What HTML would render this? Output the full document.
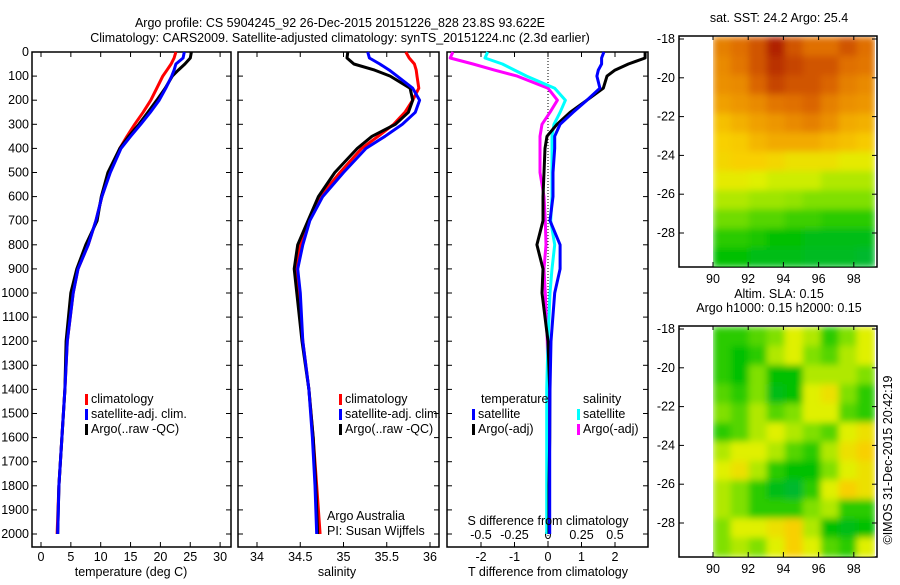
<!DOCTYPE html>
<html><head><meta charset="utf-8"><style>
body{margin:0;background:#fff}
svg text{font-family:"Liberation Sans",sans-serif;font-size:12.5px;fill:#000}
</style></head><body>
<svg id="c" width="900" height="580" xmlns="http://www.w3.org/2000/svg">
<defs><filter id="bl" x="0" y="0" width="100%" height="100%"><feGaussianBlur stdDeviation="3.5" edgeMode="duplicate"/></filter>
<clipPath id="m1"><rect x="713" y="37" width="162" height="230"/></clipPath>
<clipPath id="m2"><rect x="713" y="327" width="162" height="230"/></clipPath></defs>
<text x="340" y="27" text-anchor="middle">Argo profile: CS 5904245_92 26-Dec-2015 20151226_828 23.8S 93.622E</text>
<text x="340" y="42" text-anchor="middle">Climatology: CARS2009. Satellite-adjusted climatology: synTS_20151224.nc (2.3d earlier)</text>
<g id="g"></g>
</svg>
<script>
const depths=[0,25,50,75,100,150,200,250,300,350,400,500,600,700,800,900,1000,1200,1400,1600,1800,2000];
const tempArgo=[25.2,25.0,24.1,23.0,22.0,20.8,19.4,17.9,16.4,14.7,13.2,11.2,10.1,9.4,7.5,6.0,5.0,4.2,4.0,3.5,3.0,2.8];
const tempSat=[24.0,23.8,22.6,22.3,21.9,20.9,19.8,18.3,16.7,15.0,13.4,11.6,10.2,9.2,7.9,6.2,5.4,4.4,4.0,3.5,3.0,2.8];
const tempClim=[22.6,22.3,21.8,21.1,20.4,19.4,18.4,17.1,15.7,14.4,13.2,11.5,10.2,9.2,7.9,6.2,5.4,4.4,4.0,3.5,3.0,2.7];
const salArgo=[35.05,35.04,35.12,35.36,35.54,35.77,35.80,35.75,35.60,35.33,35.16,34.90,34.71,34.59,34.47,34.43,34.46,34.52,34.60,34.65,34.68,34.70];
const salSat=[35.28,35.30,35.42,35.53,35.62,35.80,35.88,35.83,35.68,35.48,35.26,35.00,34.76,34.61,34.53,34.47,34.50,34.53,34.60,34.64,34.67,34.69];
const salClim=[35.72,35.76,35.82,35.84,35.85,35.87,35.80,35.71,35.58,35.40,35.21,34.96,34.73,34.60,34.50,34.45,34.48,34.53,34.60,34.65,34.69,34.73];
const dTsat=[1.67,1.6,1.6,1.5,1.46,1.55,1.16,0.75,0.36,0.2,0.2,0.15,0.15,0.06,0.36,0.36,0.2,0.09,0.06,0.05,0.05,0.05];
const dTargo=[2.9,2.9,2.4,2.0,1.76,1.65,1.16,0.66,0.27,-0.03,-0.09,-0.12,-0.15,-0.15,-0.33,-0.15,-0.18,0.0,0.05,0.05,0.03,0.03];
const dSsat=[-0.45,-0.47,-0.34,-0.25,-0.16,0.05,0.13,0.09,0.045,0.03,0.03,0.03,0.03,0.02,0.05,0.03,0.015,0.0,-0.01,-0.01,-0.01,-0.01];
const dSargo=[-0.71,-0.73,-0.56,-0.4,-0.23,0.0,0.07,0.015,-0.045,-0.06,-0.06,-0.06,-0.03,-0.02,-0.015,-0.03,-0.02,-0.005,0.0,0.005,0.005,0.005];
const depthTicks=[0,100,200,300,400,500,600,700,800,900,1000,1100,1200,1300,1400,1500,1600,1700,1800,1900,2000];
const tempTicks=[0,5,10,15,20,25,30];
const salTicks=[34,34.5,35,35.5,36];
const dTTicks=[-2,-1,0,1,2];
const dSTicks=[-0.5,-0.25,0,0.25,0.5];
const dSTickLabels=["-0.5","-0.25","0","0.25","0.5"];
const lons=[90,92,94,96,98];
const lats=[-18,-20,-22,-24,-26,-28];
const sst=[[.75,.8,.85,.95,.85,.8,.8,.85,.8],[.72,.78,.85,.92,.88,.85,.85,.8,.78],[.7,.72,.82,.88,.85,.85,.82,.75,.72],[.65,.68,.72,.78,.8,.82,.75,.7,.68],[.55,.6,.65,.68,.72,.75,.7,.62,.6],[.5,.52,.58,.62,.62,.62,.58,.55,.52],[.48,.5,.5,.48,.45,.45,.45,.42,.42],[.42,.42,.4,.38,.38,.38,.35,.35,.35],[.35,.35,.33,.33,.32,.3,.3,.3,.3],[.28,.28,.25,.25,.22,.22,.2,.2,.2],[.2,.2,.18,.15,.15,.12,.12,.12,.12],[.15,.15,.12,.12,.12,.1,.1,.1,.08]];
const sla=[[.2,.2,.25,.3,.4,.35,.2,.3,.4],[.2,.15,.2,.35,.4,.3,.25,.35,.4],[.2,.15,.3,.15,.15,.35,.35,.35,.3],[.25,.2,.3,.12,.15,.4,.45,.3,.2],[.3,.25,.35,.25,.3,.4,.4,.25,.2],[.2,.25,.35,.4,.35,.3,.25,.4,.45],[.35,.4,.4,.35,.25,.2,.35,.45,.5],[.4,.45,.35,.2,.15,.15,.3,.4,.45],[.35,.3,.2,.12,.08,.2,.4,.5,.45],[.35,.3,.2,.2,.2,.3,.35,.2,.2],[.3,.4,.4,.45,.5,.35,.15,.12,.15],[.3,.35,.3,.4,.5,.4,.25,.2,.4]];

const NS="http://www.w3.org/2000/svg",G=document.getElementById('g');
function mk(t,a,p){const e=document.createElementNS(NS,t);for(const k in a)e.setAttribute(k,a[k]);(p||G).appendChild(e);return e;}
function tx(x,y,s,anchor){const e=mk('text',{x:x,y:y,'text-anchor':anchor||'start'});e.textContent=s;return e;}
const Y0=52,YS=0.241,Yb=547;
const yD=d=>Y0+d*YS;
const xT=v=>41+5.97*v, xS=v=>257+86.5*(v-34), xDT=v=>548+33.5*v, xDS=v=>548+134*v;
const panels=[[32,231],[238,439],[447,648]];
panels.forEach((p,i)=>{const r=mk('rect',{x:p[0],y:Y0,width:p[1]-p[0],height:Yb-Y0,fill:'none',stroke:'#000','stroke-width':1.5});


depthTicks.forEach(d=>{mk('line',{x1:p[0],x2:p[0]+5,y1:yD(d),y2:yD(d),stroke:'#000'});mk('line',{x1:p[1],x2:p[1]-5,y1:yD(d),y2:yD(d),stroke:'#000'});});});
depthTicks.forEach(d=>{const t=tx(29,yD(d)+4,String(d),'end');

});
function xaxis(ticks,fx,labels,y){ticks.forEach((v,i)=>{const x=fx(v);mk('line',{x1:x,x2:x,y1:Yb,y2:Yb-5,stroke:'#000'});mk('line',{x1:x,x2:x,y1:Y0,y2:Y0+5,stroke:'#000'});
const t=tx(x,y,labels?labels[i]:String(v),'middle');

});}
xaxis(tempTicks,xT,null,561);xaxis(salTicks,xS,null,561);xaxis(dTTicks,xDT,null,561);
dSTicks.forEach((v,i)=>{const t=tx(xDS(v),539,dSTickLabels[i],'middle');

});
mk('line',{x1:548,x2:548,y1:Y0,y2:Yb,stroke:'#000','stroke-dasharray':'1,2'});
function line(xs,fx,col,name){const pts=xs.map((v,i)=>fx(v).toFixed(1)+','+yD(depths[i]).toFixed(1)).join(' ');
const e=mk('polyline',{points:pts,fill:'none',stroke:col,'stroke-width':3,'stroke-linejoin':'round'});

}
line(tempClim,xT,'#f00','temp-climatology-line');line(tempArgo,xT,'#000','temp-argo-line');line(tempSat,xT,'#00f','temp-satellite-line');
line(salClim,xS,'#f00','sal-climatology-line');line(salArgo,xS,'#000','sal-argo-line');line(salSat,xS,'#00f','sal-satellite-line');
line(dSargo,xDS,'#f0f','s-diff-argo-line');line(dSsat,xDS,'#0ff','s-diff-satellite-line');line(dTargo,xDT,'#000','t-diff-argo-line');line(dTsat,xDT,'#00f','t-diff-satellite-line');
const tl=[[131,'temperature (deg C)'],[337,'salinity'],[548,'T difference from climatology']];
tl.forEach(a=>{const t=tx(a[0],576,a[1],'middle');

});
const t5=tx(548,525,'S difference from climatology','middle');


function leg(x,y,col,s){mk('rect',{x:x,y:y-9,width:3,height:11,fill:col});const t=tx(x+6,y,s);

}
[[85,'#f00','climatology'],[85,'#00f','satellite-adj. clim.'],[85,'#000','Argo(..raw -QC)']].forEach((a,i)=>leg(a[0],403+i*15,a[1],a[2]));
[[339,'#f00','climatology'],[339,'#00f','satellite-adj. clim.'],[339,'#000','Argo(..raw -QC)']].forEach((a,i)=>leg(a[0],403+i*15,a[1],a[2]));
tx(481,403,'temperature');tx(583,403,'salinity');
leg(472,418,'#00f','satellite');leg(472,433,'#000','Argo(-adj)');leg(577,418,'#0ff','satellite');leg(577,433,'#f0f','Argo(-adj)');
tx(327,520,'Argo Australia');tx(327,535,'PI: Susan Wijffels');
// maps
const stops=[[0,[0,176,96]],[.15,[0,192,0]],[.3,[128,224,0]],[.4,[224,240,0]],[.5,[248,208,0]],[.65,[240,160,0]],[.8,[224,112,0]],[.95,[176,32,0]],[1,[150,10,0]]];
function cm(v){for(let i=1;i<stops.length;i++){if(v<=stops[i][0]){const a=stops[i-1],b=stops[i],f=(v-a[0])/(b[0]-a[0]);return 'rgb('+a[1].map((c,j)=>Math.round(c+(b[1][j]-c)*f)).join(',')+')';}}return 'rgb(150,10,0)';}
const xL=v=>713+17.6*(v-90);
function map(grid,top,name,clip,title){
const yL=v=>top+3+19.4*(-18-v);
const fr=mk('rect',{x:679,y:top,width:198,height:231,fill:'#fff',stroke:'#000','stroke-width':1.5});


const g=mk('g',{'clip-path':'url(#'+clip+')'});const gi=mk('g',{filter:'url(#bl)'},g);
const nc=grid[0].length,nr=grid.length,cw=162/nc,ch=230/nr;
grid.forEach((row,r)=>row.forEach((v,c)=>{const cell=mk('rect',{x:713+c*cw-0.3,y:top+1+r*ch-0.3,width:cw+0.6,height:ch+0.6,fill:cm(v)},gi);

}));
lons.forEach(v=>{mk('line',{x1:xL(v),x2:xL(v),y1:top+231,y2:top+226,stroke:'#000'});mk('line',{x1:xL(v),x2:xL(v),y1:top,y2:top+4,stroke:'#000'});tx(xL(v),top+247,String(v),'middle');});
lats.forEach(v=>{mk('line',{x1:679,x2:684,y1:yL(v),y2:yL(v),stroke:'#000'});mk('line',{x1:877,x2:872,y1:yL(v),y2:yL(v),stroke:'#000'});tx(675,yL(v)+4,String(v),'end');});
title.forEach((s,i)=>{const t=tx(779,top-14+i*14-(title.length-1)*14,s,'middle');

});}
map(sst,36,'sst-map','m1',['sat. SST: 24.2  Argo: 25.4']);
map(sla,326,'sla-map','m2',['Altim. SLA: 0.15','Argo h1000: 0.15 h2000: 0.15']);
const im=tx(0,0,'©IMOS 31-Dec-2015 20:42:19','middle');im.setAttribute('transform','translate(892,460) rotate(-90)');


</script>
</body></html>
